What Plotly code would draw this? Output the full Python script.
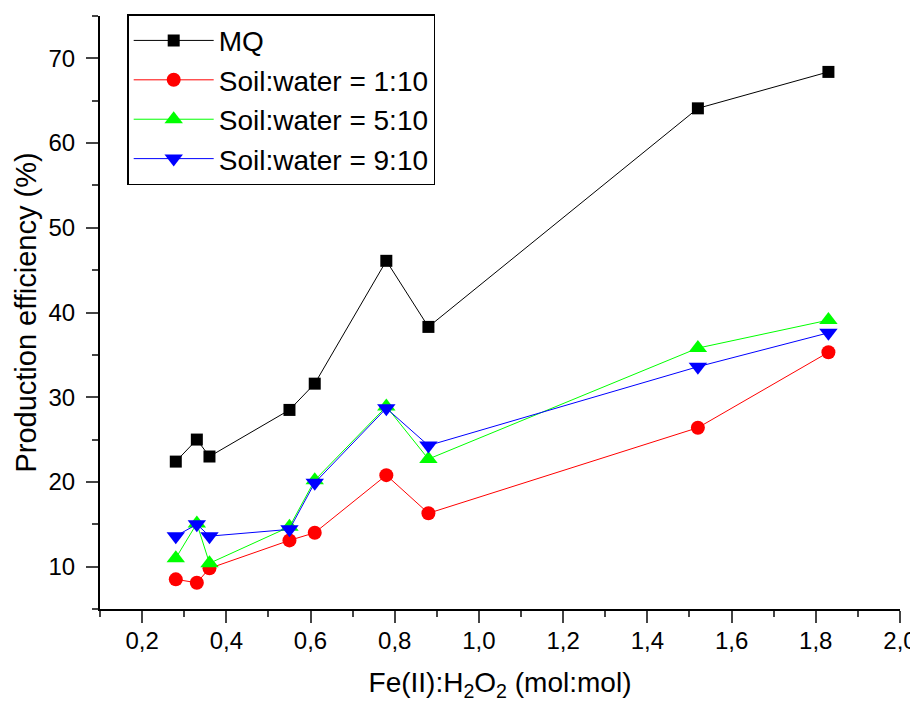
import plotly.graph_objects as go

ratio = [0.28, 0.33, 0.36, 0.55, 0.61, 0.78, 0.88, 1.52, 1.83]
mq = [22.4, 25.0, 23.0, 28.5, 31.6, 46.1, 38.3, 64.1, 68.4]
sw_1_10 = [8.5, 8.1, 9.8, 13.1, 14.0, 20.8, 16.3, 26.4, 35.3]
sw_5_10 = [11.0, 15.1, 10.4, 14.7, 20.2, 28.9, 22.7, 35.8, 39.1]
sw_9_10 = [13.6, 15.0, 13.6, 14.4, 19.9, 28.7, 24.3, 33.6, 37.6]

x_ticks = [0.2, 0.4, 0.6, 0.8, 1.0, 1.2, 1.4, 1.6, 1.8, 2.0]
y_ticks = [10, 20, 30, 40, 50, 60, 70]

series = [
    ("MQ", mq, "black", "square", 12),
    ("Soil:water = 1:10", sw_1_10, "red", "circle", 14),
    ("Soil:water = 5:10", sw_5_10, "#00ff00", "triangle-up", 16),
    ("Soil:water = 9:10", sw_9_10, "blue", "triangle-down", 16),
]

fig = go.Figure()
for name, ys, color, sym, size in series:
    fig.add_trace(go.Scatter(
        x=ratio, y=ys, name=name, mode="lines+markers",
        line=dict(color=color, width=1),
        marker=dict(symbol=sym, size=size, color=color, line=dict(width=0)),
    ))

FONT = "Liberation Sans, Arial, sans-serif"

# The page body adds an 8px offset, so the figure is 8px smaller and margins shifted.
fig.update_layout(
    width=910, height=694,
    plot_bgcolor="white", paper_bgcolor="white",
    margin=dict(l=92, r=18, t=8, b=93, autoexpand=False),
    separators=", ",
    font=dict(family=FONT, size=24, color="black"),
    showlegend=True,
    legend=dict(
        x=0.034, y=1.003, xanchor="left", yanchor="top",
        bordercolor="black", borderwidth=1.5, bgcolor="white",
        font=dict(family=FONT, size=28, color="black"), itemwidth=80, tracegroupgap=0,
    ),
    xaxis=dict(
        range=[0.1, 2.0], tickvals=x_ticks, automargin=False,
        tickformat=".1f", ticks="outside", ticklen=12, tickwidth=2, ticklabelstandoff=-3,
        showline=True, linewidth=2, linecolor="black", showgrid=False, zeroline=False,
        minor=dict(ticks="outside", ticklen=6, tickwidth=2, dtick=0.1, tick0=0.1, showgrid=False),
        title=dict(text="Fe(II):H<sub>2</sub>O<sub>2</sub> (mol:mol)",
                   font=dict(family=FONT, size=28, color="black"), standoff=23),
        tickfont=dict(family=FONT, size=24, color="black"),
    ),
    yaxis=dict(
        range=[5, 75], tickvals=y_ticks, automargin=False,
        ticks="outside", ticklen=12, tickwidth=2, ticklabelstandoff=6,
        showline=True, linewidth=2, linecolor="black", showgrid=False, zeroline=False,
        minor=dict(ticks="outside", ticklen=6, tickwidth=2, dtick=5, tick0=5, showgrid=False),
        title=dict(text="Production efficiency (%)",
                   font=dict(family=FONT, size=29, color="black"), standoff=3),
        tickfont=dict(family=FONT, size=24, color="black"),
    ),
)

fig.write_html("out.html")
